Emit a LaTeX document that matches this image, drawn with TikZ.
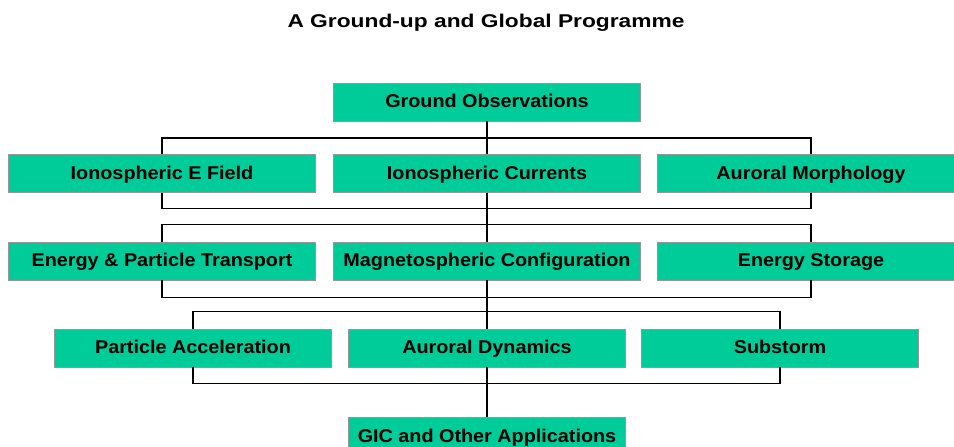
\documentclass[tikz,border=0pt]{standalone}
\usepackage{fontspec}
\setmainfont{Liberation Sans}[FakeStretch=1.07]
\newfontfamily\titlefont{Liberation Sans}[FakeStretch=1.23]
\definecolor{boxgreen}{RGB}{0,204,153}
\definecolor{boxedge}{RGB}{150,150,150}

\begin{document}
\begin{tikzpicture}[x=1bp, y=-1bp,
  topicbox/.style={rectangle, fill=boxgreen, draw=boxedge, line width=0.9bp,
    minimum width=307bp, minimum height=38bp, inner sep=0pt,
    text height=15bp, text depth=3bp,
    font=\fontsize{18.5bp}{20bp}\selectfont\bfseries},
  narrowbox/.style={topicbox, minimum width=277bp},
  link/.style={black, line width=1.1bp}]
  \useasboundingbox (0,0) rectangle (954,447);
  \clip (0,0) rectangle (954,447);
  % title
  \node[anchor=base, inner sep=0pt, font=\titlefont\fontsize{18.5bp}{20bp}\selectfont\bfseries] (title) at (486,28) {A Ground-up and Global Programme};
  % boxes
  \node[topicbox] (go) at (487,102) {Ground Observations};
  \node[topicbox] (ef) at (162,173.5) {Ionospheric E Field};
  \node[topicbox] (ic) at (487,173.5) {Ionospheric Currents};
  \node[topicbox] (am) at (811,173.5) {Auroral Morphology};
  \node[topicbox] (et) at (162,261) {Energy \& Particle Transport};
  \node[topicbox] (mc) at (487,261) {Magnetospheric Configuration};
  \node[topicbox] (es) at (811,261) {Energy Storage};
  \node[narrowbox] (pa) at (193,348) {Particle Acceleration};
  \node[narrowbox] (ad) at (487,348) {Auroral Dynamics};
  \node[narrowbox] (ss) at (780,348) {Substorm};
  \node[narrowbox] (gic) at (487,436) {GIC and Other Applications};
  % connectors
  \draw[link] (go.south) -- (ic.north);
  \draw[link] (ef.north) -- ++(0,-16) -| (am.north);
  \draw[link] (ef.south) -- ++(0,16) -| (am.south);
  \draw[link] (ic.south) -- (mc.north);
  \draw[link] (et.north) -- ++(0,-17) -| (es.north);
  \draw[link] (et.south) -- ++(0,17) -| (es.south);
  \draw[link] (mc.south) -- (ad.north);
  \draw[link] (pa.north) -- ++(0,-17) -| (ss.north);
  \draw[link] (pa.south) -- ++(0,16) -| (ss.south);
  \draw[link] (ad.south) -- (gic.north);
\end{tikzpicture}
\end{document}
